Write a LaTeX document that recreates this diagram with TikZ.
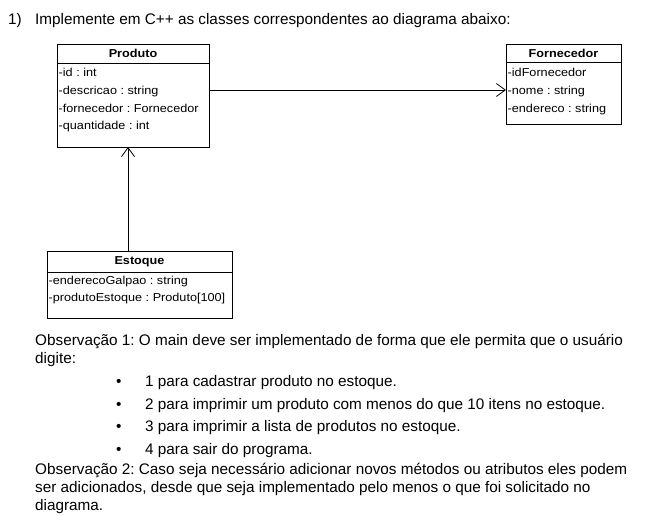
\documentclass[tikz,border=0pt]{standalone}
\usepackage{fontspec}
\setmainfont{Liberation Sans}
\newfontfamily\umlfont[FakeStretch=1.1]{Liberation Sans}
\usetikzlibrary{arrows.meta,positioning,calc}
\frenchspacing

\tikzset{
  classhead/.style={draw, line width=0.9pt, inner sep=0pt, outer sep=0pt, anchor=north west,
    font=\umlfont\bfseries\fontsize{11.5pt}{13pt}\selectfont},
  classbody/.style={draw, line width=0.9pt, inner sep=0pt, outer sep=0pt},
  attr/.style={anchor=base west, inner sep=0pt, font=\umlfont\fontsize{11.5pt}{13pt}\selectfont},
  txt/.style={anchor=base west, inner sep=0pt, font=\fontsize{15.3pt}{18pt}\selectfont},
  assoc/.style={line width=0.8pt, -{Straight Barb[length=9pt,width=13pt,line width=0.8pt]}}
}

\begin{document}
\begin{tikzpicture}[x=1pt, y=-1pt]
\useasboundingbox (0,0) rectangle (659,527);

% enunciado
\node[txt] (q1num) at (8,25) {1)};
\node[txt] (q1txt) at (35,25) {Implemente em C++ as classes correspondentes ao diagrama abaixo:};

% classe Produto
\node[classhead, minimum width=152pt, minimum height=19pt] (prodH) at (57,44) {Produto};
\node[classbody, minimum width=152pt, minimum height=84pt, below=0pt of prodH] (prodB) {};
\foreach \t [count=\i] in {{-id : int},{-descricao : string},{-fornecedor : Fornecedor},{-quantidade : int}}
  \node[attr] (prodA\i) at ($(prodB.north west)+(1.5,14+17.5*\i-17.5)$) {\t};

% classe Fornecedor
\node[classhead, minimum width=115pt, minimum height=18pt] (fornH) at (506,44) {Fornecedor};
\node[classbody, minimum width=115pt, minimum height=62pt, below=0pt of fornH] (fornB) {};
\foreach \t [count=\i] in {{-idFornecedor},{-nome : string},{-endereco : string}}
  \node[attr] (fornA\i) at ($(fornB.north west)+(1.5,15+17.5*\i-17.5)$) {\t};

% classe Estoque
\node[classhead, minimum width=185pt, minimum height=21pt] (estH) at (47,251) {Estoque};
\node[classbody, minimum width=185pt, minimum height=46pt, below=0pt of estH] (estB) {};
\foreach \t [count=\i] in {{-enderecoGalpao : string},{-produtoEstoque : Produto[100]}}
  \node[attr] (estA\i) at ($(estB.north west)+(1.5,12+17.5*\i-17.5)$) {\t};

% associacoes
\coordinate (a1) at (0,90);
\coordinate (a2) at (128,0);
\draw[assoc] (prodB.east |- a1) -- (fornB.west |- a1);
\draw[assoc] (estH.north -| a2) -- (prodB.south -| a2);

% observacoes
\node[txt] (obs1a) at (35,345) {Observação 1: O main deve ser implementado de forma que ele permita que o usuário};
\node[txt] (obs1b) at (35,363) {digite:};
\foreach \t [count=\i] in {{1 para cadastrar produto no estoque.},
  {2 para imprimir um produto com menos do que 10 itens no estoque.},
  {3 para imprimir a lista de produtos no estoque.},
  {4 para sair do programa.}}
{
  \node[txt] (bul\i) at (116,386.5+22.7*\i-22.7) {•};
  \node[txt] (item\i) at (145,386.5+22.7*\i-22.7) {\t};
}
\node[txt] (obs2a) at (35,474) {Observação 2: Caso seja necessário adicionar novos métodos ou atributos eles podem};
\node[txt] (obs2b) at (35,492) {ser adicionados, desde que seja implementado pelo menos o que foi solicitado no};
\node[txt] (obs2c) at (35,510) {diagrama.};
\end{tikzpicture}
\end{document}
